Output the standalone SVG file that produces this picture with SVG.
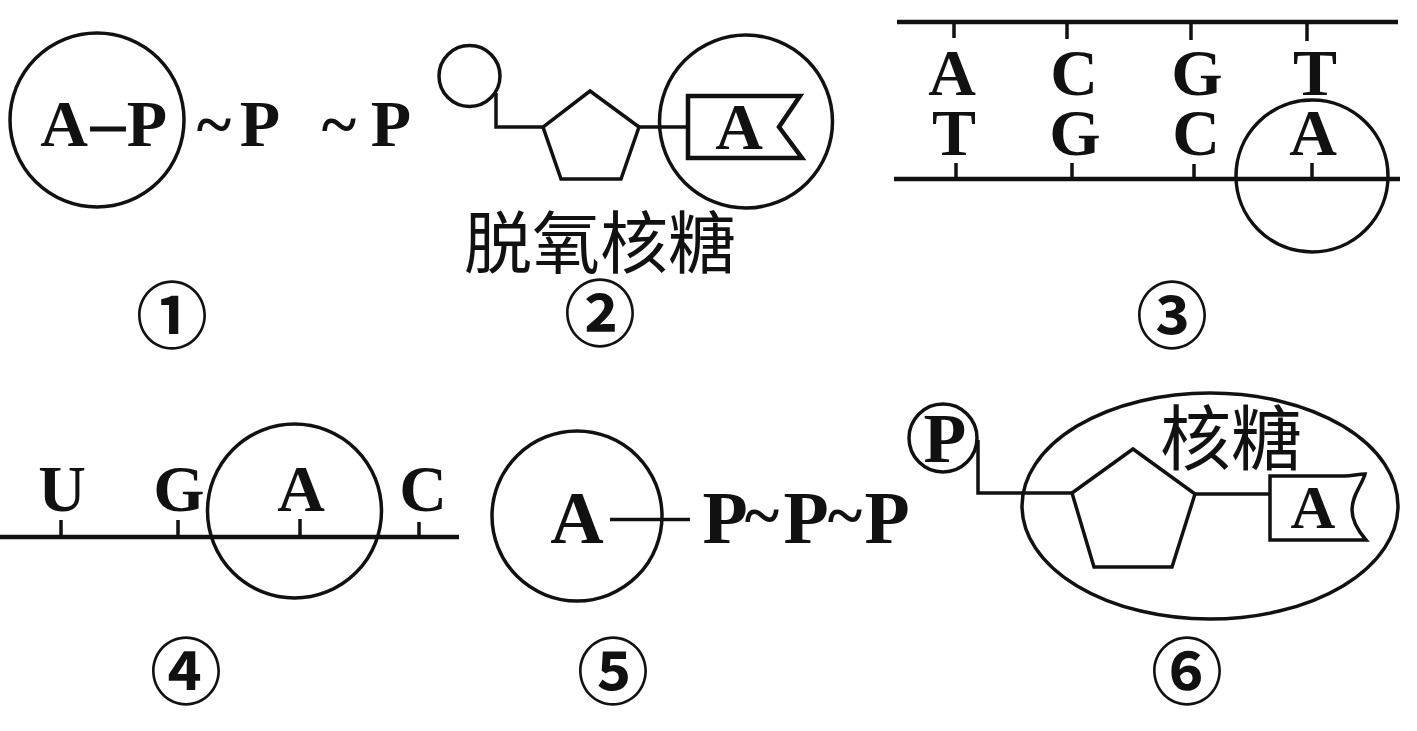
<svg xmlns="http://www.w3.org/2000/svg" width="1417" height="731" viewBox="0 0 1417 731">
<style>
.l{fill:none;stroke:#111;stroke-width:3.5}
.h{fill:none;stroke:#111;stroke-width:4.5}
.t{font-family:"Liberation Serif",serif;font-weight:bold;fill:#111;text-anchor:middle}
.s{font-size:62px}
.m{font-size:66px}
.b{font-size:74px}
.c{font-family:"Noto Sans CJK SC",sans-serif;font-size:68px;fill:#111;text-anchor:middle}
.n{font-family:"DejaVu Serif","Noto Sans CJK SC",serif;font-weight:bold;font-size:72px;fill:#111;text-anchor:middle}
</style>
<rect width="1417" height="731" fill="#fff"/>
<g id="connectors">
<path class="l" d="M496 93V127H545M639 127H688"/>
<path class="h" d="M897 22H1398"/>
<path class="l" d="M954 22V38M1067 22V39M1191 22V40M1307 22V41"/>
<path class="h" d="M894 179H1400"/>
<path class="l" d="M956 163V179M1072 163V179M1194 164V179M1312 163V179"/>
<path class="h" d="M0 537H459"/>
<path class="l" d="M61 520V537M178 520V537M300 519V537M419 522V537"/>
<path class="l" d="M610 519.500H690"/>
<path class="l" d="M978 440V493H1072M1195 494H1270"/>
</g>
<g id="n1"><circle class="l" cx="97" cy="120" r="87"/><text class="t m" x="64" y="146">A</text><path d="M90 129H126" fill="none" stroke="#111" stroke-width="5"/><text class="t m" x="147" y="146">P</text><text class="t m" x="214" y="146">~</text><text class="t m" x="260" y="146">P</text><text class="t m" x="339" y="146">~</text><text class="t m" x="391" y="146">P</text><text class="n" x="172" y="342">①</text></g>
<g id="n2"><circle class="l" cx="469.500" cy="76" r="30.500"/><path class="l" d="M590 91L639 127L621 179H561L543 127Z"/><circle class="l" cx="746" cy="121.500" r="86.500"/><path class="h" d="M688 96H800L779 127L802 158H688Z"/><text class="t m" x="739" y="149">A</text><text class="c" x="600" y="268">脱氧核糖</text><text class="n" x="600" y="340">②</text></g>
<g id="n3"><text class="t m" x="952" y="95">A</text><text class="t m" x="1074" y="95">C</text><text class="t m" x="1197" y="95">G</text><text class="t m" x="1315" y="95">T</text><text class="t m" x="954" y="155">T</text><text class="t m" x="1075" y="155">G</text><text class="t m" x="1196" y="155">C</text><text class="t m" x="1313" y="155">A</text><circle class="l" cx="1312" cy="176" r="76"/><text class="n" x="1172" y="342">③</text></g>
<g id="n4"><text class="t m" x="62" y="511">U</text><text class="t m" x="179" y="511">G</text><text class="t m" x="301" y="511">A</text><text class="t m" x="423" y="511">C</text><circle class="l" cx="294.500" cy="511" r="87"/><text class="n" x="186" y="698">④</text></g>
<g id="n5"><circle class="l" cx="577" cy="516" r="85"/><text class="t b" x="577" y="543">A</text><text class="t b" x="725" y="543">P</text><text class="t m" x="762" y="537">~</text><text class="t b" x="806" y="543">P</text><text class="t m" x="845" y="537">~</text><text class="t b" x="887" y="543">P</text><text class="n" x="613" y="698">⑤</text></g>
<g id="n6"><circle class="l" cx="943" cy="438" r="34"/><text class="t" style="font-size:70px" x="945" y="462">P</text><path class="l" d="M1133 449L1195 494L1172 567H1094L1072 493Z"/><ellipse class="l" cx="1210" cy="506" rx="188" ry="113"/><path class="l" d="M1270 476H1345C1352 476 1358 474 1365 474C1362 485 1352 495 1352 510C1352 522 1360 533 1366 540H1270Z"/><text class="t s" x="1313" y="528">A</text><text class="c" style="font-size:71px" x="1231" y="464">核糖</text><text class="n" x="1187" y="698">⑥</text></g>
</svg>
